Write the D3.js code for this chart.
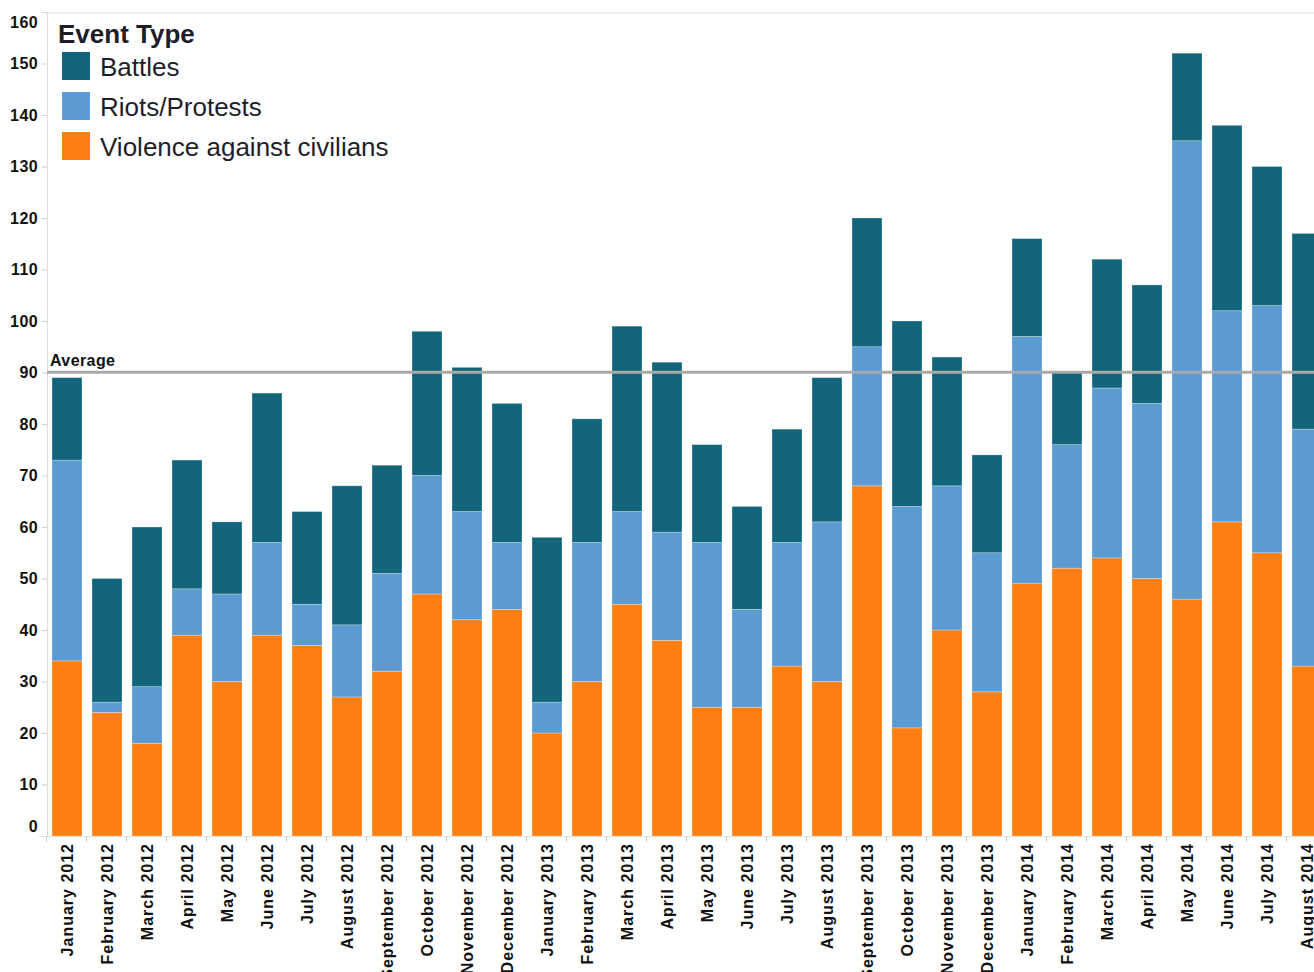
<!DOCTYPE html>
<html>
<head>
<meta charset="utf-8" />
<title>Event Type by month</title>
<script src="https://d3js.org/d3.v7.min.js"></script>
<style>
  body { margin: 0; background: #fff; }
  text { font-family: "Liberation Sans", Arial, sans-serif; }
</style>
</head>
<body>
<svg id="viz"></svg>
<script>
// months on the x axis
var months = ["January 2012","February 2012","March 2012","April 2012","May 2012","June 2012",
  "July 2012","August 2012","September 2012","October 2012","November 2012","December 2012",
  "January 2013","February 2013","March 2013","April 2013","May 2013","June 2013",
  "July 2013","August 2013","September 2013","October 2013","November 2013","December 2013",
  "January 2014","February 2014","March 2014","April 2014","May 2014","June 2014",
  "July 2014","August 2014"];

// counts per event type
var violence = [34,24,18,39,30,39,37,27,32,47,42,44, 20,30,45,38,25,25,33,30,68,21,40,28, 49,52,54,50,46,61,55,33];
var riots    = [39, 2,11, 9,17,18, 8,14,19,23,21,13,  6,27,18,21,32,19,24,31,27,43,28,27, 48,24,33,34,89,41,48,46];
var battles  = [16,24,31,25,14,29,18,27,21,28,28,27, 32,24,36,33,19,20,22,28,25,36,25,19, 19,14,25,23,17,36,27,38];

var eventTypes = ["Battles", "Riots/Protests", "Violence against civilians"];
var colors = ["#12657b", "#5b9bd2", "#fd7f13"];
var yTicks = [0,10,20,30,40,50,60,70,80,90,100,110,120,130,140,150,160];

var W = 1314, H = 972;
var mLeft = 47, mTop = 12, mBottom = 836;

var svg = d3.select("#viz").attr("width", W).attr("height", H);

var rows = months.map(function(m, i) {
  return { month: m, "Violence against civilians": violence[i], "Riots/Protests": riots[i], "Battles": battles[i] };
});

var x = d3.scaleBand().domain(months).range([mLeft, mLeft + 40 * months.length]).paddingInner(0.25).paddingOuter(0.125);
var y = d3.scaleLinear().domain([0, 160]).range([mBottom, mTop]);

// frame line on top
svg.append("line").attr("x1", mLeft).attr("x2", W).attr("y1", mTop + 1).attr("y2", mTop + 1)
  .attr("stroke", "#e0e0e0").attr("stroke-width", 1);

// stacked bars (violence at bottom)
var stack = d3.stack().keys(["Violence against civilians", "Riots/Protests", "Battles"]);
var layers = stack(rows);
var colorOf = d3.scaleOrdinal().domain(eventTypes).range(colors);

svg.append("g").selectAll("g").data(layers).enter().append("g")
  .attr("fill", function(d) { return colorOf(d.key); })
  .selectAll("rect").data(function(d) { return d; }).enter().append("rect")
  .attr("x", function(d) { return x(d.data.month); })
  .attr("width", x.bandwidth())
  .attr("y", function(d) { return y(d[1]); })
  .attr("height", function(d) { return y(d[0]) - y(d[1]); })
  .attr("stroke", "#ffffff").attr("stroke-opacity", 0.35).attr("stroke-width", 0.8);

// y axis
var yAxis = d3.axisLeft(y).tickValues(yTicks).tickSize(5).tickPadding(4);
var gy = svg.append("g").attr("transform", "translate(" + mLeft + ",0)").call(yAxis);
gy.select(".domain").attr("stroke", "#dcdcdc");
gy.selectAll(".tick line").attr("stroke", "#cfcfcf");
gy.selectAll(".tick text").attr("font-size", 16).attr("font-weight", "bold")
  .attr("letter-spacing", 0.4).attr("fill", "#111");
gy.selectAll(".tick text").filter(function(d) { return d === 160; }).attr("dy", "0.95em");
gy.selectAll(".tick text").filter(function(d) { return d === 0; }).attr("dy", "-0.3em");

// x axis
var xAxis = d3.axisBottom(x).tickSize(0).tickPadding(0);
var gx = svg.append("g").attr("transform", "translate(0," + mBottom + ")").call(xAxis);
gx.select(".domain").attr("stroke", "#dcdcdc").attr("d", "M" + (mLeft - 8) + ",0.5H" + W);
gx.selectAll(".tick text")
  .attr("transform", "rotate(-90)")
  .attr("x", -7).attr("y", 0).attr("dy", "0.36em")
  .attr("text-anchor", "end")
  .attr("font-size", 16).attr("font-weight", "bold").attr("letter-spacing", 1)
  .attr("fill", "#111");
// separators between months
gx.selectAll(".sep").data(months).enter().append("line")
  .attr("x1", function(d) { return x(d) - 5.5; }).attr("x2", function(d) { return x(d) - 5.5; })
  .attr("y1", 0).attr("y2", 6).attr("stroke", "#cfcfcf");

// average reference line
var avg = d3.mean(rows, function(d) { return d["Violence against civilians"] + d["Riots/Protests"] + d["Battles"]; });
svg.append("line").attr("x1", mLeft).attr("x2", W).attr("y1", y(avg)).attr("y2", y(avg))
  .attr("stroke", "#a9a9a9").attr("stroke-width", 3);
svg.append("text").attr("x", mLeft + 3).attr("y", y(avg) - 6).text("Average")
  .attr("font-size", 16).attr("font-weight", "bold").attr("letter-spacing", 0.4).attr("fill", "#111");

// legend
var lg = svg.append("g").attr("transform", "translate(58,0)");
lg.append("text").attr("x", 0).attr("y", 43).text("Event Type")
  .attr("font-size", 26).attr("font-weight", "bold").attr("fill", "#1e1e2a");
var items = lg.selectAll(".item").data(eventTypes).enter().append("g")
  .attr("transform", function(d, i) { return "translate(0," + (52 + i * 40) + ")"; });
items.append("rect").attr("x", 4).attr("y", 0).attr("width", 28).attr("height", 28)
  .attr("fill", function(d) { return colorOf(d); });
items.append("text").attr("x", 42).attr("y", 24).text(function(d) { return d; })
  .attr("font-size", 26).attr("fill", "#1e1e2a");
</script>
</body>
</html>
